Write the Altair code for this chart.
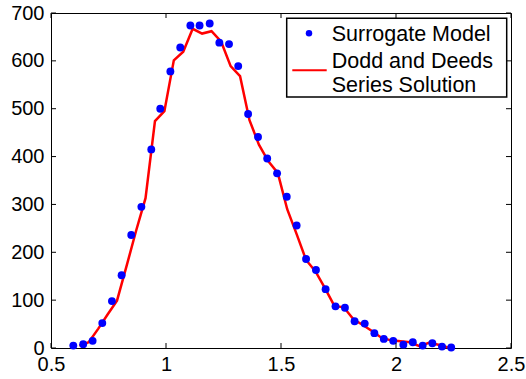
import altair as alt
import pandas as pd

# Surrogate model points
pt_x = [0.597, 0.640, 0.681, 0.723, 0.765, 0.807, 0.849, 0.893, 0.936, 0.975,
        1.019, 1.062, 1.106, 1.146, 1.190, 1.232, 1.274, 1.314, 1.357, 1.400,
        1.440, 1.483, 1.525, 1.568, 1.609, 1.652, 1.694, 1.737, 1.778, 1.820,
        1.864, 1.906, 1.947, 1.988, 2.032, 2.073, 2.116, 2.158, 2.200, 2.240]
pt_y = [5, 8, 15, 52, 98, 152, 236, 295, 415, 500,
        578, 628, 674, 674, 678, 638, 635, 589, 489, 441,
        396, 365, 316, 256, 186, 163, 123, 87, 84, 56,
        51, 31, 19, 15, 7, 12, 5, 10, 3, 1]

# Dodd and Deeds series solution
ln_x = [0.623, 0.664, 0.705, 0.746, 0.787, 0.829, 0.870, 0.911, 0.952, 0.993,
        1.034, 1.075, 1.116, 1.157, 1.198, 1.240, 1.281, 1.322, 1.363, 1.404,
        1.445, 1.486, 1.527, 1.568, 1.609, 1.650, 1.691, 1.732, 1.773, 1.815,
        1.856, 1.897, 1.938, 1.979, 2.020, 2.061, 2.102, 2.143, 2.185, 2.226]
ln_y = [5, 12, 40, 70, 99, 172, 245, 313, 474, 495,
        601, 619, 667, 657, 662, 640, 589, 568, 476, 425,
        390, 366, 290, 238, 184, 160, 125, 88, 85, 60,
        48, 35, 21, 16, 14, 12, 4, 11, 7, 1]

x_ticks = [0.5, 1.0, 1.5, 2.0, 2.5]
y_ticks = [0, 100, 200, 300, 400, 500, 600, 700]
legend_labels = ["Surrogate Model", "Dodd and Deeds", "Series Solution"]

W, H = 460, 335
FONT = "Liberation Sans"

pts = pd.DataFrame({"x": pt_x, "y": pt_y})
lns = pd.DataFrame({"x": ln_x, "y": ln_y})
xt = pd.DataFrame({"v": x_ticks})
yt = pd.DataFrame({"v": y_ticks})
one = pd.DataFrame({"a": [0]})

xs = alt.Scale(domain=[0.5, 2.5], nice=False, zero=False)
ys = alt.Scale(domain=[0, 700], nice=False)

xax = alt.Axis(values=x_ticks, format="~g", title=None, tickSize=0, domain=False,
               grid=False, labelFont=FONT, labelFontSize=20, labelColor="black",
               labelPadding=6, labelFlush=False, labelOverlap=False)
yax = alt.Axis(values=y_ticks, format="d", title=None, tickSize=0, domain=False,
               grid=False, labelFont=FONT, labelFontSize=20, labelColor="black",
               labelPadding=7, labelFlush=False, labelOverlap=False)

line = alt.Chart(lns).mark_line(color="#ff0000", strokeWidth=2.5).encode(
    x=alt.X("x:Q", scale=xs, axis=xax),
    y=alt.Y("y:Q", scale=ys, axis=yax),
)
points = alt.Chart(pts).mark_circle(color="#0000ff", size=62, opacity=1).encode(
    x=alt.X("x:Q", scale=xs),
    y=alt.Y("y:Q", scale=ys),
)

tk = 5
left_t = alt.Chart(yt).mark_rule(color="black", strokeWidth=1).encode(
    y=alt.Y("v:Q", scale=ys), x=alt.value(0), x2=alt.value(tk))
right_t = alt.Chart(yt).mark_rule(color="black", strokeWidth=1).encode(
    y=alt.Y("v:Q", scale=ys), x=alt.value(W - tk), x2=alt.value(W))
bot_t = alt.Chart(xt).mark_rule(color="black", strokeWidth=1).encode(
    x=alt.X("v:Q", scale=xs), y=alt.value(H - tk), y2=alt.value(H))
top_t = alt.Chart(xt).mark_rule(color="black", strokeWidth=1).encode(
    x=alt.X("v:Q", scale=xs), y=alt.value(0), y2=alt.value(tk))

# legend
lg_box = alt.Chart(one).mark_rect(fill="white", stroke="black", strokeWidth=1.5).encode(
    x=alt.value(235.7), x2=alt.value(455.7), y=alt.value(5.3), y2=alt.value(84))
lg_pt = alt.Chart(one).mark_circle(color="#0000ff", size=42, opacity=1).encode(
    x=alt.value(258), y=alt.value(20.3))
lg_ln = alt.Chart(one).mark_rule(color="#ff0000", strokeWidth=2).encode(
    x=alt.value(241.3), x2=alt.value(275.7), y=alt.value(57.3))
lg_txt = [
    alt.Chart(one).mark_text(text=t, align="left", baseline="alphabetic",
                             font=FONT, fontSize=21.5, color="black").encode(
        x=alt.value(280.7), y=alt.value(yy))
    for t, yy in zip(legend_labels, [28, 54.6, 78.6])
]

chart = alt.layer(line, points, left_t, right_t, bot_t, top_t,
                  lg_box, lg_pt, lg_ln, *lg_txt).properties(
    width=W, height=H,
    autosize=alt.AutoSizeParams(type="none"),
    padding={"left": 51, "top": 13, "right": 15, "bottom": 31},
    background="white",
).configure_view(stroke="black", strokeWidth=1)

chart.save("out.html", embed_options={"renderer": "svg", "actions": False})
